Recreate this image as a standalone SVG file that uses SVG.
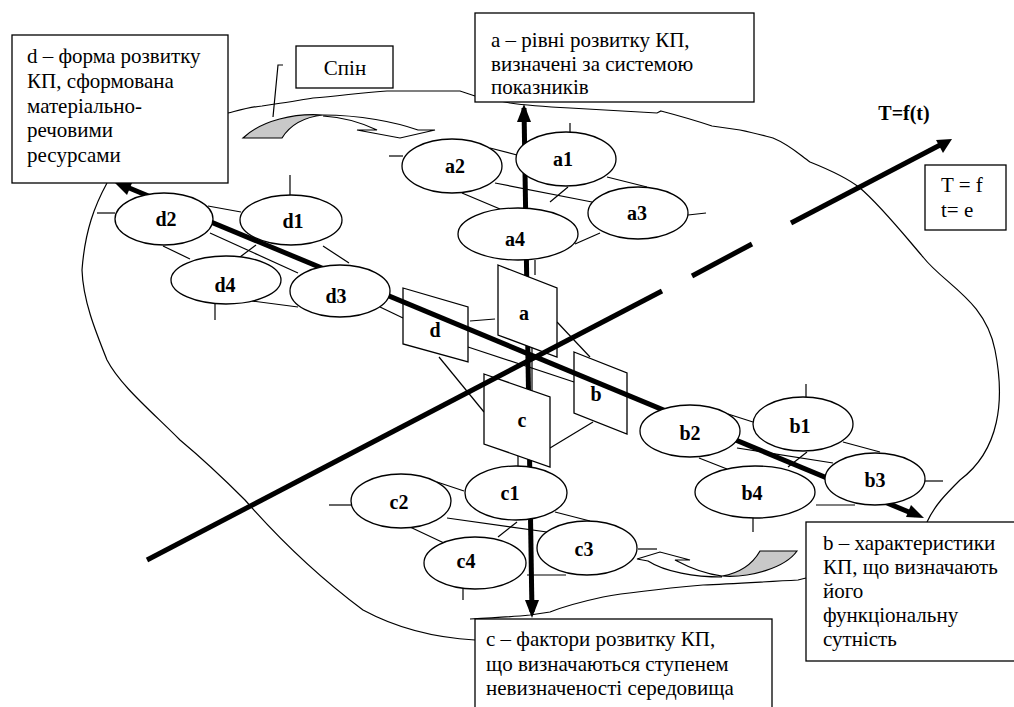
<svg xmlns="http://www.w3.org/2000/svg" width="1014" height="707" viewBox="0 0 1014 707" font-family="'Liberation Serif','Times New Roman',Tinos,'DejaVu Serif',serif">
<style>
.thin{stroke:#000;stroke-width:1.2;fill:none}
.ax{stroke:#000;stroke-width:5;fill:none}
.node ellipse{fill:#fff;stroke:#000;stroke-width:1.3}
.plane{fill:#fff;stroke:#000;stroke-width:1.3}
.box{fill:#fff;stroke:#000;stroke-width:1.3}
.lbl{font-family:'Liberation Serif','Times New Roman',Tinos,'DejaVu Serif',serif;font-weight:bold;font-size:20px;text-anchor:middle}
.txt{font-family:'Liberation Serif','Times New Roman',Tinos,'DejaVu Serif',serif;font-size:21px}
</style>
<rect width="1014" height="707" fill="#fff"/>
<path id="blob" class="thin" d="M228,113 C240,110 250,107 262,106 L275,104 C290,102 300,100 313,98 C340,96 365,92 387,91 L460,91 L475,96 L510,103 C530,106 550,107 570,108 L657,113 L661,111 C680,116 700,122 712,126 L740,130 C755,133 765,136 773,138 C790,145 800,155 810,162 C830,170 850,180 860,188 C880,205 900,230 923,257 C945,285 985,300 995,350 C1005,400 1000,450 960,480 C945,495 935,505 927,522 M806,578 L798,580 C760,582 730,584 703,585 C670,588 630,592 603,597 C580,602 560,608 550,612 L530,615 C510,617 490,618 470,619 M107,183 C95,205 85,230 82,270 C83,300 95,330 107,360 C120,385 150,410 180,440 C210,465 235,490 245,500 C280,540 320,578 363,610 C400,630 440,638 475,640"/>
<g id="connectors">
<g class="thin">
<line x1="570" y1="123" x2="570" y2="133"/>
<line x1="389" y1="156" x2="403" y2="156"/>
<line x1="688" y1="215" x2="706" y2="213"/>
<line x1="490" y1="148" x2="517" y2="155"/>
<line x1="495" y1="183" x2="592" y2="202"/>
<line x1="607" y1="177" x2="647" y2="187"/>
<line x1="462" y1="193" x2="500" y2="209"/>
<line x1="600" y1="233" x2="575" y2="244"/>
<line x1="568" y1="187" x2="550" y2="202"/>
<line x1="290" y1="175" x2="290" y2="195"/>
<line x1="97" y1="213" x2="115" y2="213"/>
<line x1="215" y1="304" x2="215" y2="320"/>
<line x1="208" y1="206" x2="241" y2="212"/>
<line x1="210" y1="233" x2="298" y2="273"/>
<line x1="163" y1="246" x2="190" y2="259"/>
<line x1="256" y1="245" x2="240" y2="257"/>
<line x1="323" y1="246" x2="349" y2="263"/>
<line x1="252" y1="301" x2="298" y2="307"/>
<line x1="380" y1="307" x2="403" y2="318"/>
<line x1="806" y1="384" x2="806" y2="397"/>
<line x1="925" y1="481" x2="943" y2="481"/>
<line x1="753" y1="518" x2="753" y2="532"/>
<line x1="728" y1="414" x2="753" y2="422"/>
<line x1="843" y1="442" x2="880" y2="452"/>
<line x1="737" y1="448" x2="833" y2="463"/>
<line x1="807" y1="452" x2="788" y2="467"/>
<line x1="699" y1="458" x2="727" y2="469"/>
<line x1="816" y1="505" x2="855" y2="505"/>
<line x1="329" y1="505" x2="351" y2="505"/>
<line x1="463" y1="588" x2="463" y2="600"/>
<line x1="638" y1="549" x2="657" y2="549"/>
<line x1="437" y1="482" x2="464" y2="491"/>
<line x1="447" y1="518" x2="547" y2="532"/>
<line x1="555" y1="512" x2="590" y2="521"/>
<line x1="410" y1="527" x2="444" y2="543"/>
<line x1="517" y1="522" x2="498" y2="537"/>
<line x1="527" y1="575" x2="566" y2="575"/>
<line x1="470" y1="321" x2="495" y2="319"/>
<line x1="439" y1="357" x2="484" y2="412"/>
<line x1="557" y1="322" x2="590" y2="357"/>
<line x1="550" y1="448" x2="593" y2="422"/>
<line x1="468" y1="347" x2="574" y2="382"/>
<line x1="535" y1="260" x2="535" y2="275"/>
<line x1="532" y1="346" x2="532" y2="392"/>
<line x1="518" y1="445" x2="518" y2="468"/>
</g>
<line class="ax" x1="532" y1="612" x2="524" y2="108" stroke-width="4.5"/>
<path d="M524,104 L517,122 L531,122 Z"/>
<path d="M532,618 L525,600 L539,600 Z"/>
</g>
<g id="planes">
<polygon id="plane-a" class="plane" points="498,265 557,288 557,357 498,335"/>
<polygon id="plane-d" class="plane" points="403,288 468,307 468,362 403,344"/>
<polygon id="plane-b" class="plane" points="574,352 627,373 627,434 574,413"/>
<polygon id="plane-c" class="plane" points="484,374 550,397 550,467 484,444"/>
<text class="lbl" x="524" y="320">a</text>
<text class="lbl" x="435" y="337">d</text>
<text class="lbl" x="596" y="401">b</text>
<text class="lbl" x="522" y="427">c</text>
</g>
<g id="axes">
<line class="ax" x1="122" y1="185" x2="916" y2="515"/>
<path d="M114,182 L132,183 L127,195 Z"/>
<path d="M924,518 L906,517 L911,505 Z"/>
<line class="ax" x1="147" y1="560" x2="662" y2="291"/>
<line class="ax" x1="692" y1="276" x2="752" y2="244"/>
<line class="ax" x1="791" y1="223" x2="942" y2="144"/>
<path d="M952,139 L936,140 L943,153 Z"/>
</g>
<g id="a1" class="node"><ellipse cx="566" cy="159" rx="50" ry="27"/><text class="lbl" x="563" y="166">a1</text></g>
<g id="a2" class="node"><ellipse cx="452" cy="166" rx="50" ry="27"/><text class="lbl" x="455" y="173">a2</text></g>
<g id="a3" class="node"><ellipse cx="638" cy="213" rx="50" ry="26"/><text class="lbl" x="637" y="220">a3</text></g>
<g id="a4" class="node"><ellipse cx="518" cy="234" rx="60" ry="26"/><text class="lbl" x="515" y="246">a4</text></g>
<g id="d1" class="node"><ellipse cx="291" cy="220" rx="51" ry="25"/><text class="lbl" x="293" y="228">d1</text></g>
<g id="d2" class="node"><ellipse cx="164" cy="219" rx="49" ry="26"/><text class="lbl" x="166" y="226">d2</text></g>
<g id="d3" class="node"><ellipse cx="340" cy="291" rx="50" ry="26"/><text class="lbl" x="336" y="303">d3</text></g>
<g id="d4" class="node"><ellipse cx="226" cy="280" rx="55" ry="24"/><text class="lbl" x="225" y="292">d4</text></g>
<g id="b1" class="node"><ellipse cx="803" cy="424" rx="50" ry="27"/><text class="lbl" x="800" y="433">b1</text></g>
<g id="b2" class="node"><ellipse cx="690" cy="431" rx="50" ry="26"/><text class="lbl" x="690" y="440">b2</text></g>
<g id="b3" class="node"><ellipse cx="875" cy="479" rx="50" ry="26"/><text class="lbl" x="875" y="487">b3</text></g>
<g id="b4" class="node"><ellipse cx="755" cy="492" rx="60" ry="26"/><text class="lbl" x="752" y="500">b4</text></g>
<g id="c1" class="node"><ellipse cx="516" cy="493" rx="51" ry="27"/><text class="lbl" x="510" y="500">c1</text></g>
<g id="c2" class="node"><ellipse cx="401" cy="501" rx="50" ry="27"/><text class="lbl" x="399" y="509">c2</text></g>
<g id="c3" class="node"><ellipse cx="587" cy="548" rx="50" ry="27"/><text class="lbl" x="584" y="556">c3</text></g>
<g id="c4" class="node"><ellipse cx="475" cy="563" rx="51" ry="26"/><text class="lbl" x="466" y="568">c4</text></g>
<g id="box-d"><rect class="box" x="12" y="35" width="216" height="148"/>
<text class="txt" x="27" y="63">d – форма розвитку</text>
<text class="txt" x="27" y="88">КП, сформована</text>
<text class="txt" x="27" y="113">матеріально-</text>
<text class="txt" x="27" y="137">речовими</text>
<text class="txt" x="27" y="162">ресурсами</text></g>
<g id="box-a"><rect class="box" x="475" y="13" width="279" height="89"/>
<text class="txt" x="491" y="47">a – рівні розвитку КП,</text>
<text class="txt" x="491" y="71">визначені за системою</text>
<text class="txt" x="491" y="94">показників</text></g>
<g id="box-spin"><rect class="box" x="296" y="46" width="97" height="42"/>
<text class="txt" x="345" y="75" text-anchor="middle">Спін</text></g>
<g id="box-T"><rect class="box" x="925" y="165" width="81" height="65"/>
<text class="txt" x="941" y="192">T = f</text>
<text class="txt" x="941" y="217">t= e</text></g>
<text id="T-label" class="lbl" x="904" y="120">T=f(t)</text>
<g id="box-b"><rect class="box" x="806" y="522" width="210" height="139"/>
<text class="txt" x="823" y="550">b – характеристики</text>
<text class="txt" x="823" y="574">КП, що визначають</text>
<text class="txt" x="823" y="598">його</text>
<text class="txt" x="823" y="622">функціональну</text>
<text class="txt" x="823" y="646">сутність</text></g>
<g id="box-c"><rect class="box" x="475" y="619" width="297" height="95"/>
<text class="txt" x="486" y="646">с – фактори розвитку КП,</text>
<text class="txt" x="486" y="671">що визначаються ступенем</text>
<text class="txt" x="486" y="695">невизначеності середовища</text></g>
<g id="spin-top">
<path class="thin" d="M283,65 L278,65 L273,117"/>
<path d="M243,138 C262,120 295,113 323,115 C305,117 290,125 282,138 Z" fill="#c8c8c8" stroke="#000" stroke-width="1.2"/>
<path class="thin" d="M323,115 C360,115 395,122 418,130 L435,130 L400,138 L357,130 L377,130 C360,122 340,117 323,116"/>
</g>
<g id="spin-bottom">
<path d="M797,551 L760,551 C752,565 740,573 722,576 C750,578 785,568 797,551 Z" fill="#c8c8c8" stroke="#000" stroke-width="1.2"/>
<path class="thin" d="M722,577 C695,577 665,572 648,561 L637,559 L660,552 L690,560 L675,560 C690,568 705,574 722,576"/>
</g>
</svg>
